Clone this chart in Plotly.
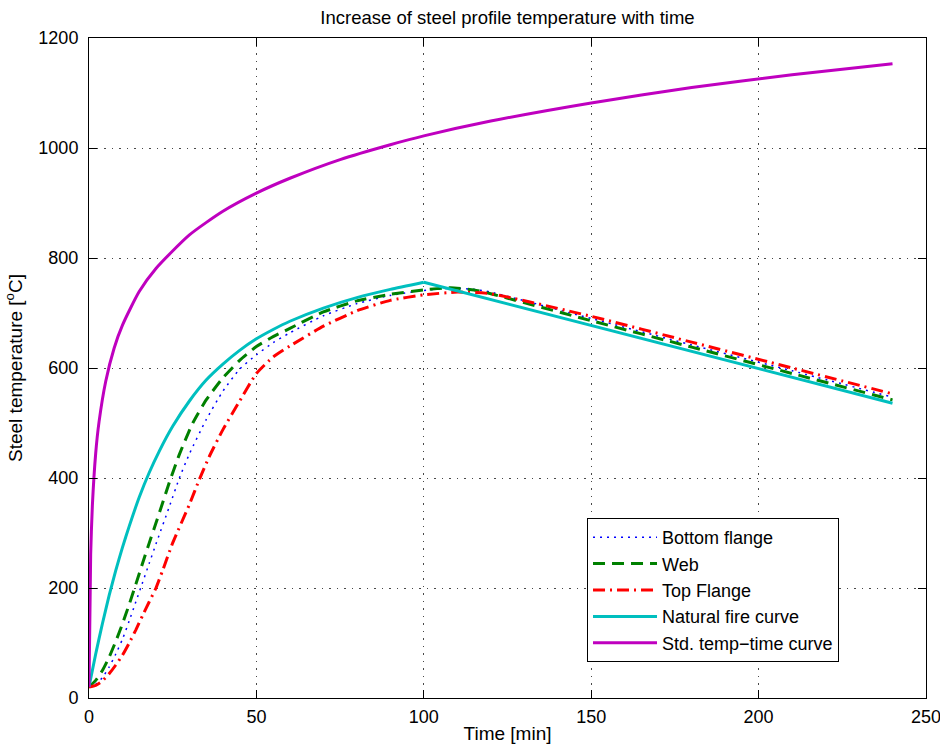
import plotly.graph_objects as go

# ---- data ----
t_std = [0, 0.5, 1, 2, 3, 5, 7.5, 10, 15, 20, 30, 40, 50, 60, 75, 90, 100, 120, 150, 180, 210, 240]
T_std = [20, 261, 349, 445, 502, 576, 636, 678, 739, 781, 842, 885, 918, 945, 979, 1006, 1022, 1049, 1082, 1110, 1133, 1153]

# natural fire curve: heating phase, then linear cooling after the peak at 100 min
t_nat_heat = [0, 1, 2, 3, 4, 6, 8, 10, 12, 15, 18, 21, 25, 30, 35, 40, 45, 50, 55, 60, 70, 80, 90, 100]
T_nat_heat = [20, 50, 80, 108, 135, 186, 232, 274, 312, 365, 410, 449, 494, 540, 578, 607, 632, 653, 670, 685, 709, 728, 743, 756]
t_nat_cool = [100, 240]
T_nat_cool = [756, 536]

t_web = [0, 2, 4, 6, 8, 10, 12, 14, 16, 18, 20, 22, 24, 27, 31, 35, 40, 45, 50, 55, 60, 70, 80, 90, 100, 108, 115, 120, 150, 180, 210, 240]
T_web = [20, 32, 50, 74, 103, 135, 170, 207, 245, 282, 318, 355, 392, 443, 500, 542, 582, 614, 639, 657, 672, 702, 722, 734, 742, 746, 742, 735, 686, 638, 590, 542]

t_bot = [0, 2, 4, 6, 8, 10, 12, 14, 16, 18, 20, 24, 27, 30, 35, 40, 45, 50, 55, 60, 70, 80, 90, 100, 108, 115, 120, 150, 180, 210, 240]
T_bot = [20, 25, 37, 56, 80, 107, 140, 175, 210, 245, 280, 348, 400, 444, 506, 558, 598, 624, 646, 664, 695, 717, 732, 741, 745, 743, 738, 690, 642, 595, 547]

t_top = [0, 2, 4, 6, 8, 10, 12, 14, 16, 18, 20, 22, 25, 30, 33, 36, 40, 45, 50, 55, 60, 70, 80, 90, 100, 110, 120, 150, 180, 210, 240]
T_top = [20, 23, 31, 44, 60, 78, 100, 124, 150, 175, 200, 232, 282, 352, 398, 440, 488, 540, 590, 620, 640, 676, 704, 723, 733, 738, 735, 694, 647, 600, 553]

x_ticks = [0, 50, 100, 150, 200, 250]
y_ticks = [0, 200, 400, 600, 800, 1000, 1200]

FONT = "Liberation Sans, Arial, Helvetica, sans-serif"
C_NAT = "#00bfbf"

fig = go.Figure()
fig.add_trace(go.Scatter(x=t_bot, y=T_bot, mode="lines", name="Bottom flange",
                         line=dict(color="#0000ff", width=1.5, dash="2px,5px", shape="spline", smoothing=0.5)))
fig.add_trace(go.Scatter(x=t_web, y=T_web, mode="lines", name="Web",
                         line=dict(color="#008000", width=3, dash="12px,7px", shape="spline", smoothing=0.5)))
fig.add_trace(go.Scatter(x=t_top, y=T_top, mode="lines", name="Top Flange",
                         line=dict(color="#ff0000", width=3, dash="12px,5px,2px,5px", shape="spline", smoothing=0.5)))
fig.add_trace(go.Scatter(x=t_nat_heat, y=T_nat_heat, mode="lines", name="Natural fire curve",
                         legendgroup="nat",
                         line=dict(color=C_NAT, width=3, shape="spline", smoothing=0.5)))
fig.add_trace(go.Scatter(x=t_nat_cool, y=T_nat_cool, mode="lines", name="Natural fire curve",
                         legendgroup="nat", showlegend=False,
                         line=dict(color=C_NAT, width=3)))
fig.add_trace(go.Scatter(x=t_std, y=T_std, mode="lines", name="Std. temp\u2212time curve",
                         line=dict(color="#bf00bf", width=3, shape="spline", smoothing=0.6)))

axis_common = dict(
    showline=True, linecolor="black", linewidth=1, mirror="ticks",
    ticks="inside", ticklen=8, tickcolor="black",
    showgrid=True, gridcolor="rgba(40,40,40,0.85)", griddash="1.5px,6px", gridwidth=1,
    zeroline=False, automargin=False, ticklabeloverflow="allow",
    tickfont=dict(family=FONT, size=18, color="black"),
)

fig.update_xaxes(range=[0, 250], tickvals=x_ticks, ticklabelstandoff=2,
                 title=dict(text="Time [min]", font=dict(family=FONT, size=19, color="black"), standoff=1),
                 **axis_common)
fig.update_yaxes(range=[0, 1200], tickvals=y_ticks, ticklabelstandoff=6,
                 title=dict(text="Steel temperature [<sup>o</sup>C]", font=dict(family=FONT, size=19, color="black"), standoff=10),
                 **axis_common)

fig.update_layout(
    width=940, height=746,
    margin=dict(l=89, r=14, t=38, b=48),
    paper_bgcolor="white", plot_bgcolor="white",
    title=dict(text="Increase of steel profile temperature with time",
               font=dict(family=FONT, size=18.5, color="black"),
               x=0.5, xref="paper", xanchor="center", y=0.977, yanchor="middle"),
    showlegend=True,
    legend=dict(x=0.595, y=0.2727, xanchor="left", yanchor="top",
                bgcolor="white", bordercolor="black", borderwidth=1,
                font=dict(family=FONT, size=18, color="black"),
                itemwidth=64, tracegroupgap=0),
)

fig.write_html("out.html")
